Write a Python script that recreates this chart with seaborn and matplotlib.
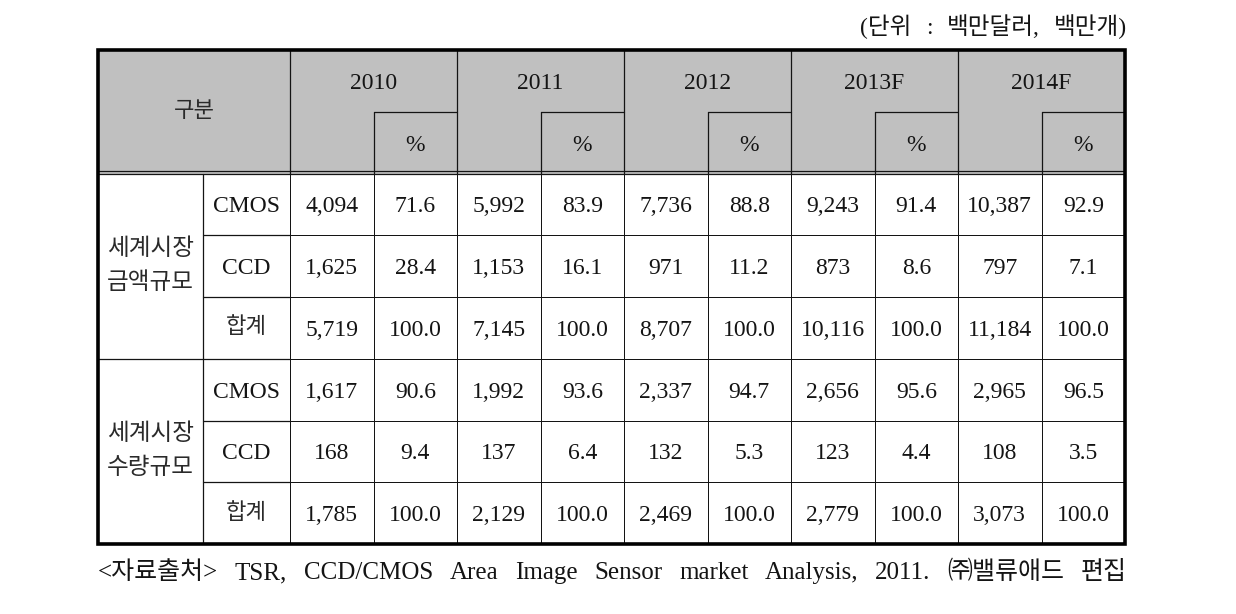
import numpy as np
import pandas as pd
import matplotlib
matplotlib.use("Agg")
import matplotlib.pyplot as plt
import seaborn as sns
from matplotlib.colors import ListedColormap
from matplotlib.patches import Rectangle

years = ['2010', '2011', '2012', '2013F', '2014F']
groups = ['세계시장\n금액규모', '세계시장\n수량규모']
items = ['CMOS', 'CCD', '합계']

amount_cmos = [4094, 5992, 7736, 9243, 10387]
amount_cmos_pct = [71.6, 83.9, 88.8, 91.4, 92.9]
amount_ccd = [1625, 1153, 971, 873, 797]
amount_ccd_pct = [28.4, 16.1, 11.2, 8.6, 7.1]
amount_total = [5719, 7145, 8707, 10116, 11184]
amount_total_pct = [100.0, 100.0, 100.0, 100.0, 100.0]

volume_cmos = [1617, 1992, 2337, 2656, 2965]
volume_cmos_pct = [90.6, 93.6, 94.7, 95.6, 96.5]
volume_ccd = [168, 137, 132, 123, 108]
volume_ccd_pct = [9.4, 6.4, 5.3, 4.4, 3.5]
volume_total = [1785, 2129, 2469, 2779, 3073]
volume_total_pct = [100.0, 100.0, 100.0, 100.0, 100.0]

unit_note = '(단위 : 백만달러, 백만개)'
source_note = '<자료출처> TSR, CCD/CMOS Area Image Sensor market Analysis, 2011. ㈜밸류애드 편집'

rows = [(amount_cmos, amount_cmos_pct), (amount_ccd, amount_ccd_pct),
        (amount_total, amount_total_pct), (volume_cmos, volume_cmos_pct),
        (volume_ccd, volume_ccd_pct), (volume_total, volume_total_pct)]

labels = []
for vals, pcts in rows:
    line = []
    for v, p in zip(vals, pcts):
        line += [f"{v:,}", f"{p:.1f}"]
    labels.append(line)
labels = np.array(labels)
cols = [f"{y}_{k}" for y in years for k in ('val', 'pct')]
df = pd.DataFrame(np.zeros(labels.shape), columns=cols)

sns.set_style('white')
fam = ['Liberation Serif', 'Noto Sans CJK KR', 'DejaVu Sans']
plt.rcParams['font.family'] = fam
ink = '#141414'
kink = '#2a2a2a'

fig = plt.figure(figsize=(12.36, 6.14), dpi=100)
ax = fig.add_axes([98 / 1236, 1 - 544 / 614, (1125 - 98) / 1236, (544 - 50) / 614])

sns.heatmap(df, annot=labels, fmt='', cmap=ListedColormap(['white']), cbar=False,
            linewidths=0.5, linecolor=ink, xticklabels=False, yticklabels=False,
            annot_kws={'fontsize': 17, 'color': ink, 'va': 'center_baseline'}, ax=ax)

x0 = -2.3
xs = -1.04
ax.set_xlim(x0, 10)
ax.set_ylim(6, -2)
ax.set_axis_off()

# header background
ax.add_patch(Rectangle((x0, -2), 10 - x0, 2, facecolor='#c0c0c0', edgecolor='none', zorder=0.5))

lw = 0.9
for k in range(0, 10, 2):
    ax.plot([k, k], [-2, 0], color=ink, lw=lw, zorder=3)
    ax.plot([k + 1, k + 1], [-1, 0], color=ink, lw=lw, zorder=3)
    ax.plot([k + 1, k + 2], [-1, -1], color=ink, lw=lw, zorder=3)
    ax.text(k + 1, -1.5, years[k // 2], ha='center', va='center_baseline', fontsize=17, color=ink)
    ax.text(k + 1.5, -0.5, '%', ha='center', va='center_baseline', fontsize=17, color=ink)
ax.text((x0 + 0) / 2, -1.0, '구분', ha='center', va='center', fontsize=16, color=kink)

# double line under header
ax.plot([x0, 10], [0, 0], color=ink, lw=lw, zorder=3)
ax.plot([x0, 10], [-0.045, -0.045], color=ink, lw=lw, zorder=3)

# label column lines
ax.plot([xs, xs], [0, 6], color=ink, lw=lw, zorder=3)
for r in [1, 2, 4, 5]:
    ax.plot([xs, 0], [r, r], color=ink, lw=lw, zorder=3)
ax.plot([x0, 0], [3, 3], color=ink, lw=lw, zorder=3)

for g, name in enumerate(groups):
    ax.text((x0 + xs) / 2, g * 3 + 1.5, name, ha='center', va='center',
            fontsize=17, color=kink, linespacing=1.75)
    for i, it in enumerate(items):
        if it == '합계':
            ax.text((xs + 0) / 2, g * 3 + i + 0.5, it, ha='center', va='center',
                    fontsize=16, color=kink)
        else:
            ax.text((xs + 0) / 2, g * 3 + i + 0.5, it, ha='center', va='center_baseline',
                    fontsize=17, color=ink)

# outer border
ax.add_patch(Rectangle((x0, -2), 10 - x0, 8, fill=False, edgecolor='black', lw=2.6,
                       zorder=6, clip_on=False))


def justify(text, left, right, base, latin=17, hangul=18):
    # spread words evenly between left and right (pixels), common baseline
    words = text.split()
    arts = []
    for w in words:
        size = hangul if any(ord(c) > 0x2FFF for c in w) else latin
        arts.append(fig.text(0, 1 - base / 614, w, ha='left', va='baseline',
                             fontsize=size, color=ink))
    r = fig.canvas.get_renderer()
    widths = [a.get_window_extent(r).width for a in arts]
    gap = (right - left - sum(widths)) / max(len(words) - 1, 1)
    x = left
    for a, wd in zip(arts, widths):
        a.set_x(x / 1236)
        x += wd + gap


justify(unit_note, 860, 1127, 34, latin=17, hangul=17)
justify(source_note, 98, 1127, 579, latin=18, hangul=18)

fig.savefig('out.png', dpi=100)
